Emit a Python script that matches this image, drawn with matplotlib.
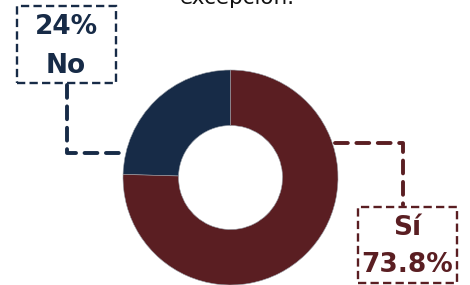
import matplotlib.pyplot as plt
from matplotlib.patches import Rectangle

labels = ["No", "Sí"]
values = [24, 73.8]
value_labels = ["24%", "73.8%"]
colors = ["#172B47", "#5A1E22"]
title = "excepción."

W, H = 470, 285
fig = plt.figure(figsize=(4.7, 2.85), dpi=100)
ax = fig.add_axes([0, 0, 1, 1])
ax.set_xlim(0, W)
ax.set_ylim(0, H)
ax.set_aspect('equal')
ax.axis('off')

cx, cy, R = 230.5, H - 177.5, 107.5
ax.pie(values, colors=colors, startangle=90, counterclock=True,
       center=(cx, cy), radius=R,
       wedgeprops=dict(width=R - 52, edgecolor='#9aa0a8', linewidth=0.4))
ax.set_xlim(0, W)
ax.set_ylim(0, H)

fig.text(237 / W, 1 - 4 / H, title, ha='center', va='baseline', fontsize=15.5,
         family='DejaVu Sans', color='#111111')

def box(x0, y0p, x1, y1p, color):
    r = Rectangle((x0, H - y1p), x1 - x0, y1p - y0p, fill=False, edgecolor=color,
                  linewidth=1.7, linestyle=(0, (3.5, 1.8)))
    ax.add_patch(r)

def conn(xs, ysp, color):
    ax.plot(xs, [H - y for y in ysp], color=color, linewidth=2.8,
            linestyle=(0, (3.3, 2.2)), dash_capstyle='round', solid_capstyle='round')

FS = 19
FAM = 'DejaVu Sans'
# No
box(17, 6, 116, 83, colors[0])
conn([67, 67, 127], [85, 153, 153], colors[0])
ax.text(66, H - 27, value_labels[0], ha='center', va='center', fontsize=FS,
        family=FAM, fontweight='bold', color=colors[0])
ax.text(66, H - 66, labels[0], ha='center', va='center', fontsize=FS,
        family=FAM, fontweight='bold', color=colors[0])

# Sí
box(358, 207, 457, 283, colors[1])
conn([335, 403, 403], [143, 143, 205], colors[1])
ax.text(407, H - 228, labels[1], ha='center', va='center', fontsize=FS,
        family=FAM, fontweight='bold', color=colors[1])
ax.text(407, H - 265, value_labels[1], ha='center', va='center', fontsize=FS,
        family=FAM, fontweight='bold', color=colors[1])

fig.savefig('out.png', dpi=100)
